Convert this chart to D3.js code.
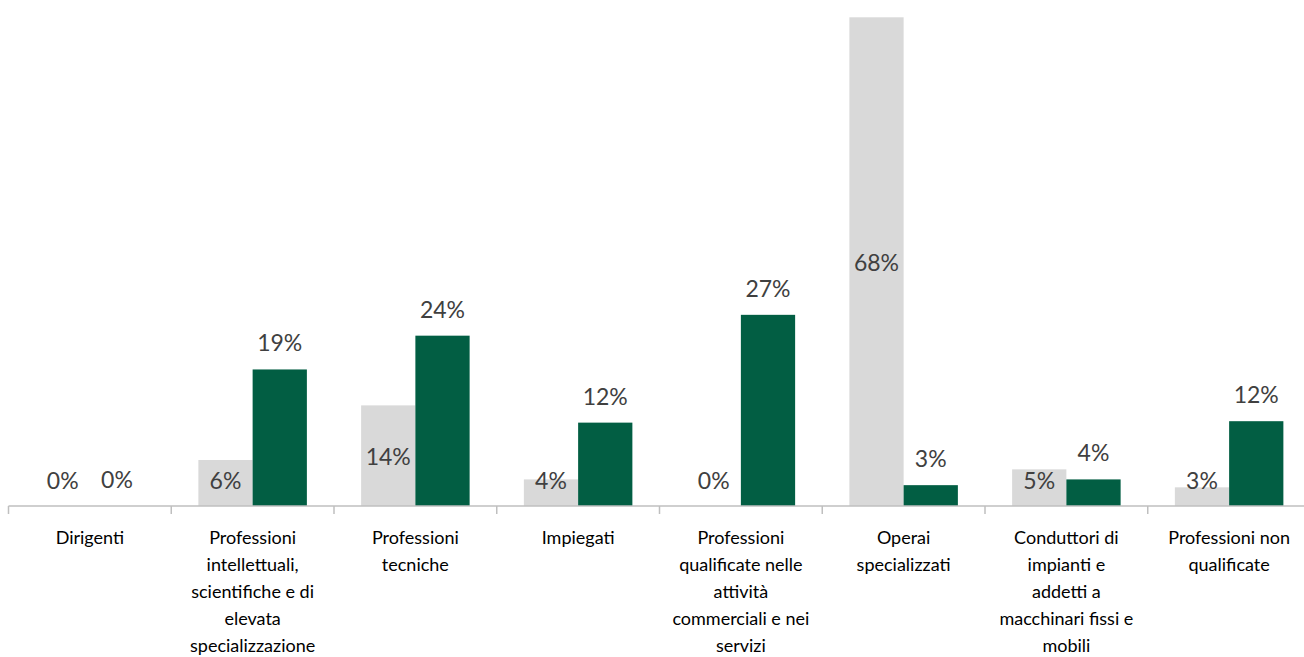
<!DOCTYPE html>
<html>
<head>
<meta charset="utf-8">
<script src="https://cdn.jsdelivr.net/npm/d3@7"></script>
<style>
  html, body { margin: 0; padding: 0; background: #fff; }
  svg { display: block; }
</style>
</head>
<body>
<svg id="chart" width="1304" height="657"></svg>
<script>
const categories = [
  "Dirigenti",
  "Professioni intellettuali, scientifiche e di elevata specializzazione",
  "Professioni tecniche",
  "Impiegati",
  "Professioni qualificate nelle attività commerciali e nei servizi",
  "Operai specializzati",
  "Conduttori di impianti e addetti a macchinari fissi e mobili",
  "Professioni non qualificate"
];
const tickLabelLines = [
  ["Dirigenti"],
  ["Professioni", "intellettuali,", "scientifiche e di", "elevata", "specializzazione"],
  ["Professioni", "tecniche"],
  ["Impiegati"],
  ["Professioni", "qualificate nelle", "attività", "commerciali e nei", "servizi"],
  ["Operai", "specializzati"],
  ["Conduttori di", "impianti e", "addetti a", "macchinari fissi e", "mobili"],
  ["Professioni non", "qualificate"]
];
const seriesNames = ["grigio", "verde"];
const seriesGrey  = [0, 6.4, 14.0, 3.7, 0, 68.0, 5.1, 2.6];
const seriesGreen = [0, 19.0, 23.7, 11.6, 26.6, 2.9, 3.7, 11.8];
const colors = ["#d9d9d9", "#025e43"];

const svg = d3.select("#chart");
const baseY = 506;

const x0 = d3.scaleBand().domain(categories).range([8.5, 1310.5]).paddingInner(0).paddingOuter(0);
const x1 = d3.scaleBand().domain(seriesNames).range([0, x0.bandwidth()]).paddingInner(0).paddingOuter(0.5);
const yMax = d3.max(seriesGrey.concat(seriesGreen));
const y = d3.scaleLinear().domain([0, yMax]).range([baseY, 17.3]);

const rows = categories.map((c, i) => ({
  cat: c,
  vals: [
    { s: seriesNames[0], v: seriesGrey[i], k: 0 },
    { s: seriesNames[1], v: seriesGreen[i], k: 1 }
  ]
}));

const fmt = v => d3.format(".0%")(v / 100);
const font = "Lato, 'Open Sans', sans-serif";

const g = svg.append("g");
const groups = g.selectAll("g.cat").data(rows).join("g")
  .attr("transform", d => `translate(${x0(d.cat)},0)`);

groups.selectAll("rect").data(d => d.vals).join("rect")
  .attr("x", d => x1(d.s))
  .attr("width", x1.bandwidth())
  .attr("y", d => y(d.v))
  .attr("height", d => baseY - y(d.v))
  .attr("fill", d => colors[d.k]);

// data labels
groups.selectAll("text.lbl").data(d => d.vals).join("text")
  .attr("class", "lbl")
  .attr("x", d => x1(d.s) + x1.bandwidth() / 2)
  .attr("y", d => d.k === 0
      ? Math.min((y(d.v) + baseY) / 2, baseY - 26)
      : y(d.v) - 27)
  .attr("text-anchor", "middle")
  .attr("dominant-baseline", "central")
  .attr("font-family", font)
  .attr("font-size", 23)
  .attr("fill", "#404040")
  .text(d => fmt(d.v));

// axis line
const axisG = svg.append("g");
axisG.append("line")
  .attr("x1", x0.range()[0]).attr("x2", x0.range()[1])
  .attr("y1", baseY).attr("y2", baseY)
  .attr("stroke", "#bfbfbf").attr("stroke-width", 1.5);
const bounds = categories.map(c => x0(c)).concat([x0.range()[1]]);
axisG.selectAll("line.tick").data(bounds).join("line")
  .attr("class", "tick")
  .attr("x1", d => d).attr("x2", d => d)
  .attr("y1", baseY).attr("y2", baseY + 8)
  .attr("stroke", "#bfbfbf").attr("stroke-width", 1.5);

// tick labels
const tl = axisG.selectAll("text.tl").data(categories).join("text")
  .attr("class", "tl")
  .attr("text-anchor", "middle")
  .attr("font-family", font)
  .attr("font-size", 18)
  .attr("fill", "#000");
tl.each(function(c, i) {
  const t = d3.select(this);
  tickLabelLines[i].forEach((line, j) => {
    t.append("tspan")
      .attr("x", x0(c) + x0.bandwidth() / 2)
      .attr("y", 537 + j * 27)
      .attr("dominant-baseline", "central")
      .text(line);
  });
});
</script>
</body>
</html>
